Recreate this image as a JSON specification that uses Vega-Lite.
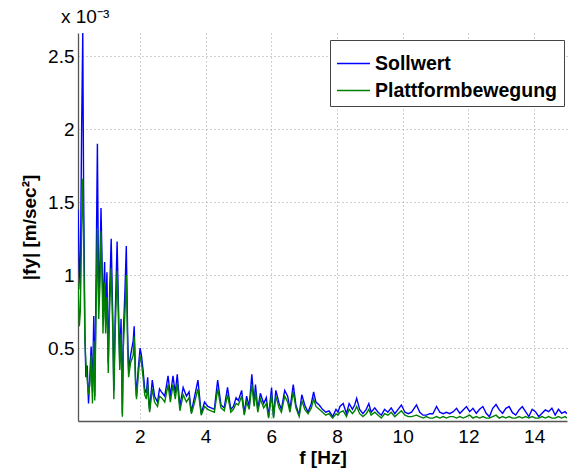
{
  "$schema": "https://vega.github.io/schema/vega-lite/v6.json",
  "autosize": "none",
  "width": 489,
  "height": 388,
  "padding": {"left": 78, "top": 33, "right": 1, "bottom": 52},
  "background": "white",
  "config": {
    "view": {"stroke": null},
    "font": "Liberation Sans"
  },
  "title": {
    "text": "x 10⁻³",
    "anchor": "start",
    "frame": "group",
    "dx": -17,
    "offset": 6,
    "fontSize": 19,
    "fontWeight": "normal",
    "font": "Liberation Sans",
    "color": "#000"
  },
  "data": {
    "values": [
      {"f": 0.12, "S": 1.45, "P": 0.95},
      {"f": 0.16, "S": 1.05, "P": 0.65},
      {"f": 0.19, "S": 0.9, "P": 0.75},
      {"f": 0.23, "S": 2.0, "P": 1.3},
      {"f": 0.265, "S": 2.66, "P": 1.66},
      {"f": 0.29, "S": 1.6, "P": 1.3},
      {"f": 0.33, "S": 0.6, "P": 0.55},
      {"f": 0.36, "S": 0.3, "P": 0.4},
      {"f": 0.4, "S": 0.38, "P": 0.28},
      {"f": 0.44, "S": 0.12, "P": 0.18},
      {"f": 0.48, "S": 0.3, "P": 0.25},
      {"f": 0.52, "S": 0.51, "P": 0.45},
      {"f": 0.56, "S": 0.2, "P": 0.12},
      {"f": 0.6, "S": 0.72, "P": 0.55},
      {"f": 0.63, "S": 0.17, "P": 0.14},
      {"f": 0.66, "S": 0.75, "P": 0.6},
      {"f": 0.71, "S": 1.9, "P": 1.32},
      {"f": 0.75, "S": 0.79, "P": 0.7},
      {"f": 0.79, "S": 1.1, "P": 0.95},
      {"f": 0.82, "S": 1.46, "P": 1.3},
      {"f": 0.86, "S": 1.0, "P": 0.9},
      {"f": 0.88, "S": 0.74, "P": 0.6},
      {"f": 0.93, "S": 1.09, "P": 0.95},
      {"f": 0.96, "S": 0.7, "P": 0.6},
      {"f": 1.0, "S": 1.02, "P": 0.85},
      {"f": 1.04, "S": 0.4, "P": 0.33},
      {"f": 1.08, "S": 0.86, "P": 0.75},
      {"f": 1.13, "S": 1.25, "P": 1.05},
      {"f": 1.18, "S": 0.68, "P": 0.6},
      {"f": 1.21, "S": 0.21, "P": 0.15},
      {"f": 1.25, "S": 0.7, "P": 0.6},
      {"f": 1.31, "S": 1.23, "P": 1.03},
      {"f": 1.35, "S": 0.8, "P": 0.7},
      {"f": 1.39, "S": 0.4, "P": 0.35},
      {"f": 1.43, "S": 0.7, "P": 0.6},
      {"f": 1.47, "S": 0.05, "P": 0.03},
      {"f": 1.5, "S": 0.6, "P": 0.5},
      {"f": 1.55, "S": 0.9, "P": 0.75},
      {"f": 1.59, "S": 1.2, "P": 1.0},
      {"f": 1.63, "S": 0.6, "P": 0.5},
      {"f": 1.66, "S": 0.35, "P": 0.3},
      {"f": 1.72, "S": 0.45, "P": 0.4},
      {"f": 1.8, "S": 0.55, "P": 0.45},
      {"f": 1.83, "S": 0.65, "P": 0.58},
      {"f": 1.87, "S": 0.3, "P": 0.25},
      {"f": 1.9, "S": 0.17, "P": 0.15},
      {"f": 1.95, "S": 0.35, "P": 0.3},
      {"f": 2.01, "S": 0.5, "P": 0.45},
      {"f": 2.05, "S": 0.45, "P": 0.4},
      {"f": 2.1, "S": 0.35, "P": 0.3},
      {"f": 2.15, "S": 0.22, "P": 0.18},
      {"f": 2.2, "S": 0.19, "P": 0.15},
      {"f": 2.24, "S": 0.3, "P": 0.25},
      {"f": 2.28, "S": 0.12, "P": 0.1},
      {"f": 2.3, "S": 0.08, "P": 0.06},
      {"f": 2.38, "S": 0.28, "P": 0.22},
      {"f": 2.45, "S": 0.17, "P": 0.13},
      {"f": 2.54, "S": 0.13, "P": 0.1},
      {"f": 2.6, "S": 0.22, "P": 0.17},
      {"f": 2.66, "S": 0.2, "P": 0.16},
      {"f": 2.76, "S": 0.17, "P": 0.13},
      {"f": 2.86, "S": 0.31, "P": 0.25},
      {"f": 2.93, "S": 0.17, "P": 0.13},
      {"f": 3.01, "S": 0.31, "P": 0.25},
      {"f": 3.08, "S": 0.19, "P": 0.15},
      {"f": 3.14, "S": 0.32, "P": 0.26},
      {"f": 3.22, "S": 0.1, "P": 0.07},
      {"f": 3.32, "S": 0.23, "P": 0.18},
      {"f": 3.42, "S": 0.17, "P": 0.13},
      {"f": 3.5, "S": 0.2, "P": 0.16},
      {"f": 3.57, "S": 0.06, "P": 0.05},
      {"f": 3.67, "S": 0.17, "P": 0.13},
      {"f": 3.77, "S": 0.28, "P": 0.22},
      {"f": 3.87, "S": 0.05, "P": 0.04},
      {"f": 3.97, "S": 0.13, "P": 0.1},
      {"f": 4.07, "S": 0.1, "P": 0.08},
      {"f": 4.17, "S": 0.09, "P": 0.07},
      {"f": 4.27, "S": 0.08, "P": 0.06},
      {"f": 4.37, "S": 0.28, "P": 0.22},
      {"f": 4.47, "S": 0.11, "P": 0.09},
      {"f": 4.57, "S": 0.09, "P": 0.07},
      {"f": 4.67, "S": 0.23, "P": 0.18},
      {"f": 4.77, "S": 0.08, "P": 0.06},
      {"f": 4.85, "S": 0.1, "P": 0.08},
      {"f": 4.93, "S": 0.16, "P": 0.12},
      {"f": 5.0, "S": 0.14, "P": 0.11},
      {"f": 5.1, "S": 0.21, "P": 0.17},
      {"f": 5.18, "S": 0.05, "P": 0.04},
      {"f": 5.25, "S": 0.17, "P": 0.13},
      {"f": 5.33, "S": 0.1, "P": 0.08},
      {"f": 5.41, "S": 0.32, "P": 0.25},
      {"f": 5.48, "S": 0.12, "P": 0.1},
      {"f": 5.52, "S": 0.25, "P": 0.2},
      {"f": 5.59, "S": 0.08, "P": 0.06},
      {"f": 5.67, "S": 0.19, "P": 0.15},
      {"f": 5.77, "S": 0.12, "P": 0.09},
      {"f": 5.85, "S": 0.16, "P": 0.12},
      {"f": 5.92, "S": 0.03, "P": 0.02},
      {"f": 6.01, "S": 0.23, "P": 0.18},
      {"f": 6.07, "S": 0.03, "P": 0.02},
      {"f": 6.14, "S": 0.21, "P": 0.17},
      {"f": 6.24, "S": 0.12, "P": 0.09},
      {"f": 6.31, "S": 0.08, "P": 0.06},
      {"f": 6.41, "S": 0.21, "P": 0.17},
      {"f": 6.5, "S": 0.17, "P": 0.13},
      {"f": 6.57, "S": 0.08, "P": 0.06},
      {"f": 6.67, "S": 0.25, "P": 0.2},
      {"f": 6.75, "S": 0.11, "P": 0.09},
      {"f": 6.85, "S": 0.04, "P": 0.03},
      {"f": 6.93, "S": 0.18, "P": 0.14},
      {"f": 7.02, "S": 0.11, "P": 0.08},
      {"f": 7.12, "S": 0.06, "P": 0.05},
      {"f": 7.22, "S": 0.12, "P": 0.09},
      {"f": 7.29, "S": 0.2, "P": 0.15},
      {"f": 7.36, "S": 0.13, "P": 0.1},
      {"f": 7.46, "S": 0.11, "P": 0.08},
      {"f": 7.56, "S": 0.08, "P": 0.06},
      {"f": 7.66, "S": 0.06, "P": 0.04},
      {"f": 7.76, "S": 0.07, "P": 0.05},
      {"f": 7.87, "S": 0.03, "P": 0.02},
      {"f": 7.97, "S": 0.08, "P": 0.05},
      {"f": 8.03, "S": 0.06, "P": 0.04},
      {"f": 8.09, "S": 0.1, "P": 0.06},
      {"f": 8.19, "S": 0.12, "P": 0.07},
      {"f": 8.29, "S": 0.05, "P": 0.03},
      {"f": 8.37, "S": 0.12, "P": 0.08},
      {"f": 8.47, "S": 0.08, "P": 0.05},
      {"f": 8.54, "S": 0.11, "P": 0.07},
      {"f": 8.6, "S": 0.156, "P": 0.1},
      {"f": 8.69, "S": 0.08, "P": 0.05},
      {"f": 8.79, "S": 0.05, "P": 0.03},
      {"f": 8.89, "S": 0.08, "P": 0.05},
      {"f": 8.97, "S": 0.12, "P": 0.08},
      {"f": 9.04, "S": 0.06, "P": 0.04},
      {"f": 9.15, "S": 0.09, "P": 0.06},
      {"f": 9.25, "S": 0.06, "P": 0.04},
      {"f": 9.35, "S": 0.04, "P": 0.02},
      {"f": 9.45, "S": 0.08, "P": 0.05},
      {"f": 9.55, "S": 0.06, "P": 0.04},
      {"f": 9.65, "S": 0.09, "P": 0.06},
      {"f": 9.76, "S": 0.05, "P": 0.03},
      {"f": 9.86, "S": 0.08, "P": 0.05},
      {"f": 9.96, "S": 0.11, "P": 0.07},
      {"f": 10.07, "S": 0.06, "P": 0.04},
      {"f": 10.17, "S": 0.05, "P": 0.03},
      {"f": 10.27, "S": 0.06, "P": 0.03},
      {"f": 10.42, "S": 0.11, "P": 0.04},
      {"f": 10.52, "S": 0.06, "P": 0.03},
      {"f": 10.62, "S": 0.04, "P": 0.02},
      {"f": 10.72, "S": 0.04, "P": 0.03},
      {"f": 10.82, "S": 0.05, "P": 0.02},
      {"f": 10.92, "S": 0.05, "P": 0.02},
      {"f": 11.03, "S": 0.1, "P": 0.03},
      {"f": 11.13, "S": 0.06, "P": 0.02},
      {"f": 11.23, "S": 0.05, "P": 0.03},
      {"f": 11.33, "S": 0.06, "P": 0.02},
      {"f": 11.43, "S": 0.05, "P": 0.03},
      {"f": 11.54, "S": 0.064, "P": 0.03},
      {"f": 11.64, "S": 0.087, "P": 0.02},
      {"f": 11.74, "S": 0.053, "P": 0.03},
      {"f": 11.84, "S": 0.076, "P": 0.02},
      {"f": 11.94, "S": 0.099, "P": 0.03},
      {"f": 12.04, "S": 0.064, "P": 0.04},
      {"f": 12.14, "S": 0.087, "P": 0.02},
      {"f": 12.24, "S": 0.053, "P": 0.03},
      {"f": 12.34, "S": 0.08, "P": 0.02},
      {"f": 12.44, "S": 0.099, "P": 0.03},
      {"f": 12.54, "S": 0.053, "P": 0.02},
      {"f": 12.64, "S": 0.03, "P": 0.02},
      {"f": 12.74, "S": 0.087, "P": 0.03},
      {"f": 12.84, "S": 0.113, "P": 0.04},
      {"f": 12.94, "S": 0.076, "P": 0.02},
      {"f": 13.04, "S": 0.053, "P": 0.03},
      {"f": 13.14, "S": 0.087, "P": 0.02},
      {"f": 13.24, "S": 0.099, "P": 0.03},
      {"f": 13.34, "S": 0.057, "P": 0.02},
      {"f": 13.44, "S": 0.041, "P": 0.02},
      {"f": 13.54, "S": 0.076, "P": 0.03},
      {"f": 13.64, "S": 0.099, "P": 0.02},
      {"f": 13.74, "S": 0.064, "P": 0.03},
      {"f": 13.84, "S": 0.03, "P": 0.02},
      {"f": 13.94, "S": 0.08, "P": 0.03},
      {"f": 14.04, "S": 0.064, "P": 0.02},
      {"f": 14.14, "S": 0.03, "P": 0.02},
      {"f": 14.24, "S": 0.053, "P": 0.03},
      {"f": 14.34, "S": 0.076, "P": 0.02},
      {"f": 14.44, "S": 0.064, "P": 0.03},
      {"f": 14.54, "S": 0.087, "P": 0.02},
      {"f": 14.64, "S": 0.041, "P": 0.02},
      {"f": 14.74, "S": 0.08, "P": 0.03},
      {"f": 14.84, "S": 0.053, "P": 0.02},
      {"f": 14.94, "S": 0.064, "P": 0.03},
      {"f": 15.0, "S": 0.05, "P": 0.02}
    ]
  },
  "transform": [
    {"fold": ["S", "P"], "as": ["key", "value"]},
    {"lookup": "key", "from": {"data": {"values": [{"key": "S", "name": "Sollwert", "o": 0}, {"key": "P", "name": "Plattformbewegung", "o": 1}]}, "key": "key", "fields": ["name", "o"]}}
  ],
  "mark": {"type": "line", "strokeWidth": 1.4, "clip": true, "interpolate": "linear"},
  "encoding": {
    "x": {
      "field": "f",
      "type": "quantitative",
      "scale": {"domain": [0.12, 15], "nice": false, "zero": false},
      "axis": {
        "title": "f [Hz]",
        "values": [2, 4, 6, 8, 10, 12, 14],
        "format": "~g",
        "grid": true,
        "gridDash": [1, 3],
        "gridColor": "#a0a0a0",
        "gridOpacity": 1,
        "ticks": false,
        "domainColor": "#555",
        "domainWidth": 1.3,
        "labelFontSize": 19,
        "labelColor": "#000",
        "labelPadding": 6,
        "labelFont": "Liberation Sans",
        "titleFont": "Liberation Sans",
        "titleFontSize": 19,
        "titleFontWeight": "bold",
        "titleColor": "#000",
        "titlePadding": 2
      }
    },
    "y": {
      "field": "value",
      "type": "quantitative",
      "scale": {"domain": [0, 2.66], "nice": false},
      "axis": {
        "title": "|fy| [m/sec²]",
        "values": [0.5, 1, 1.5, 2, 2.5],
        "format": "~g",
        "grid": true,
        "gridDash": [1, 3],
        "gridColor": "#a0a0a0",
        "gridOpacity": 1,
        "ticks": false,
        "domainColor": "#555",
        "domainWidth": 1.3,
        "labelFontSize": 19,
        "labelColor": "#000",
        "labelPadding": 4,
        "labelFont": "Liberation Sans",
        "titleFont": "Liberation Sans",
        "titleFontSize": 19,
        "titleFontWeight": "bold",
        "titleColor": "#000",
        "titlePadding": 8
      }
    },
    "color": {
      "field": "name",
      "type": "nominal",
      "sort": ["Sollwert", "Plattformbewegung"],
      "scale": {"domain": ["Sollwert", "Plattformbewegung"], "range": ["#0000ff", "#008000"]},
      "legend": {
        "title": null,
        "orient": "none",
        "legendX": 252,
        "legendY": 7,
        "fillColor": "white",
        "strokeColor": "#444",
        "padding": 6,
        "symbolType": "stroke",
        "symbolSize": 1089,
        "symbolStrokeWidth": 1.3,
        "labelFontSize": 19.5,
        "labelFontWeight": "bold",
        "labelFont": "Liberation Sans",
        "labelColor": "#000",
        "labelOffset": 4,
        "labelLimit": 300,
        "rowPadding": -6
      }
    },
    "order": {"field": "o", "type": "quantitative"}
  }
}
